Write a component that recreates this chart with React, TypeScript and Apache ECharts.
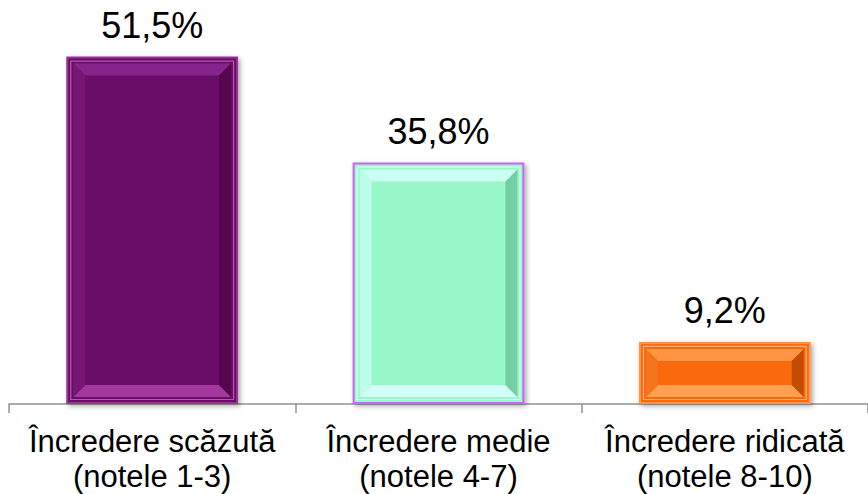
import React, { useEffect, useRef } from "react";
import * as echarts from "echarts";

const categories = [
  "Încredere scăzută\n(notele 1-3)",
  "Încredere medie\n(notele 4-7)",
  "Încredere ridicată\n(notele 8-10)",
];
const values = [51.5, 35.8, 9.2];
const baseColors = ["#6A0A67", "#99F8C9", "#F96A0A"];
const borderColors = ["#9A3095", "#C866F5", "#FF9448"];
const bevelTop = ["#85248A", "#CBFFF2", "#FF9444"];
const bevelLeft = ["#771775", "#BDFEEA", "#F4741C"];
const bevelRight = ["#56054F", "#72CFA2", "#C44C00"];
const bevelBottom = ["#A4389E", "#D2FFF8", "#FFA052"];
const frameColors = ["#B45AAE", "#E4FFF6", "#FFB07A"];

export default function App() {
  const ref = useRef<HTMLDivElement>(null);
  useEffect(() => {
    if (!ref.current) return;
    const chart = echarts.init(ref.current, null, { renderer: "svg" });
    const customData = values.map((v, i) => [i, v]);
    chart.setOption({
      animation: false,
      grid: { left: 9, right: -5, top: 33, bottom: 89 },
      xAxis: {
        type: "category",
        data: categories,
        axisLine: { show: true, lineStyle: { color: "#909090", width: 1.5 } },
        axisTick: { show: true, length: 9, lineStyle: { color: "#909090", width: 1.5 } },
        axisLabel: {
          interval: 0,
          color: "#000",
          fontFamily: "Liberation Sans, Arial, sans-serif",
          fontSize: 31,
          lineHeight: 35,
          margin: 20,
        },
      },
      yAxis: { type: "value", min: 0, max: 55, show: false, splitLine: { show: false } },
      series: [
        {
          type: "bar",
          barWidth: "60%",
          data: values.map((v, i) => ({
            value: v,
            itemStyle: {
              color: baseColors[i],
              borderColor: borderColors[i],
              borderWidth: 2,
              shadowColor: "rgba(0,0,0,0.35)",
              shadowBlur: 5,
              shadowOffsetX: 2,
              shadowOffsetY: 2,
            },
          })),
          label: {
            show: true,
            position: "top",
            distance: 13,
            color: "#000",
            fontFamily: "Liberation Sans, Arial, sans-serif",
            fontSize: 36,
            formatter: (p: any) => p.value.toFixed(1).replace(".", ",") + "%",
          },
          z: 2,
        },
        {
          type: "custom",
          data: customData,
          encode: { x: 0, y: 1 },
          z: 3,
          silent: true,
          renderItem: (params: any, api: any) => {
            const idx = api.value(0);
            const val = api.value(1);
            const top = api.coord([idx, val]);
            const base = api.coord([idx, 0]);
            const bw = api.size([1, 0])[0] * 0.6;
            const x0 = top[0] - bw / 2;
            const x1 = top[0] + bw / 2;
            const y0 = top[1];
            const y1 = base[1];
            const a = 7;
            const b = 19;
            const poly = (pts: number[][], fill: string) => ({
              type: "polygon",
              shape: { points: pts },
              style: { fill, stroke: null },
            });
            return {
              type: "group",
              children: [
                {
                  type: "rect",
                  shape: { x: x0 + a - 2.5, y: y0 + a - 2.5, width: x1 - x0 - 2 * a + 5, height: y1 - y0 - 2 * a + 5 },
                  style: { fill: "none", stroke: frameColors[idx], lineWidth: 1.2 },
                },
                poly([[x0 + a, y0 + a], [x1 - a, y0 + a], [x1 - b, y0 + b], [x0 + b, y0 + b]], bevelTop[idx]),
                poly([[x0 + a, y1 - a], [x1 - a, y1 - a], [x1 - b, y1 - b], [x0 + b, y1 - b]], bevelBottom[idx]),
                poly([[x0 + a, y0 + a], [x0 + b, y0 + b], [x0 + b, y1 - b], [x0 + a, y1 - a]], bevelLeft[idx]),
                poly([[x1 - a, y0 + a], [x1 - b, y0 + b], [x1 - b, y1 - b], [x1 - a, y1 - a]], bevelRight[idx]),
              ],
            };
          },
        },
      ],
    });
    return () => chart.dispose();
  }, []);
  return (
    <div
      ref={ref}
      style={{ position: "fixed", left: 0, top: 0, width: 868, height: 494, background: "#fff" }}
    />
  );
}
